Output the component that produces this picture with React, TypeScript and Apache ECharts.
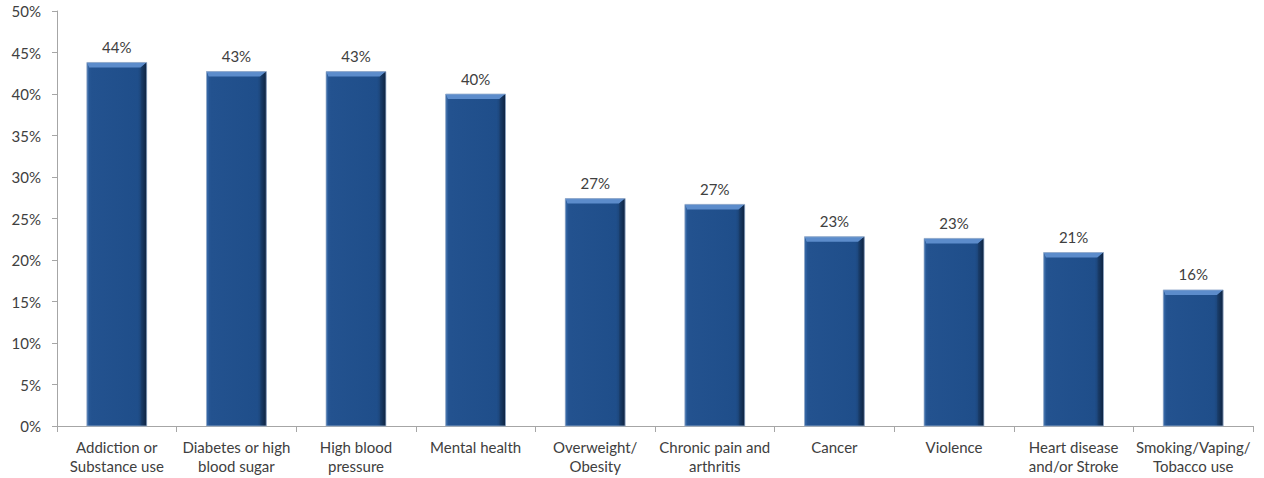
import React, { useEffect, useRef } from "react";
import * as echarts from "echarts";

const categories = [
  "Addiction or\nSubstance use",
  "Diabetes or high\nblood sugar",
  "High blood\npressure",
  "Mental health",
  "Overweight/\nObesity",
  "Chronic pain and\narthritis",
  "Cancer",
  "Violence",
  "Heart disease\nand/or Stroke",
  "Smoking/Vaping/\nTobacco use",
];
const values = [43.8, 42.7, 42.7, 40.0, 27.4, 26.7, 22.8, 22.6, 20.9, 16.4];
const yTicks = [0, 5, 10, 15, 20, 25, 30, 35, 40, 45, 50];

const FONT = "Lato, 'Open Sans', sans-serif";

export default function App() {
  const ref = useRef<HTMLDivElement>(null);
  useEffect(() => {
    if (!ref.current) return;
    const chart = echarts.init(ref.current, undefined, { renderer: "svg" });
    chart.setOption({
      animation: false,
      grid: { left: 57, right: 11, top: 11, bottom: 52 },
      xAxis: {
        type: "category",
        data: categories,
        axisLine: { lineStyle: { color: "#A6A6A6" } },
        axisTick: { show: true, alignWithLabel: false, length: 6, lineStyle: { color: "#A6A6A6" } },
        axisLabel: {
          color: "#404040",
          fontFamily: FONT,
          fontSize: 15,
          lineHeight: 19,
          margin: 11,
          interval: 0,
        },
      },
      yAxis: {
        type: "value",
        min: yTicks[0],
        max: yTicks[yTicks.length - 1],
        interval: 5,
        axisLine: { show: true, lineStyle: { color: "#A6A6A6" } },
        axisTick: { show: true, length: 5, lineStyle: { color: "#A6A6A6" } },
        splitLine: { show: false },
        axisLabel: {
          color: "#404040",
          fontFamily: FONT,
          fontSize: 15,
          margin: 16,
          formatter: (v: number) => `${v}%`,
        },
      },
      series: [
        {
          type: "bar",
          data: values,
          barWidth: "50%",
          itemStyle: {
            color: new echarts.graphic.LinearGradient(0, 0, 1, 0, [
              { offset: 0, color: "#2A5A98" },
              { offset: 0.08, color: "#23528F" },
              { offset: 0.85, color: "#1F4E8A" },
              { offset: 1, color: "#17375F" },
            ]),
          },
          label: {
            show: true,
            position: "top",
            distance: 8,
            color: "#404040",
            fontFamily: FONT,
            fontSize: 15,
            formatter: (p: any) => `${Math.round(p.value)}%`,
          },
        },
        {
          type: "custom",
          silent: true,
          z: 3,
          data: values.map((v, i) => [i, v]),
          renderItem: (params: any, api: any) => {
            const top = api.coord([api.value(0), api.value(1)]);
            const base = api.coord([api.value(0), 0]);
            const w = api.size([1, 0])[0] * 0.5;
            const x0 = top[0] - w / 2;
            const x1 = top[0] + w / 2;
            const y0 = top[1];
            const y1 = base[1];
            const b = 5;
            const s = 6;
            return {
              type: "group",
              children: [
                {
                  type: "polygon",
                  shape: { points: [[x0, y0], [x1, y0], [x1 - s, y0 + b], [x0 + 2, y0 + b]] },
                  style: { fill: "#5C8CCB" },
                },
                {
                  type: "polygon",
                  shape: { points: [[x1, y0], [x1, y1], [x1 - s, y1], [x1 - s, y0 + b]] },
                  style: {
                    fill: new echarts.graphic.LinearGradient(0, 0, 1, 0, [
                      { offset: 0, color: "#1A3F6E" },
                      { offset: 1, color: "#0E2340" },
                    ]),
                  },
                },
                {
                  type: "polygon",
                  shape: { points: [[x0, y0], [x0 + 2, y0 + b], [x0 + 2, y1], [x0, y1]] },
                  style: { fill: "#3465A3" },
                },
                {
                  type: "rect",
                  shape: { x: x0, y: y0, width: w, height: y1 - y0 },
                  style: { fill: "none", stroke: "#9DB3CF", lineWidth: 0.8 },
                },
              ],
            };
          },
        },
      ],
    });
    return () => chart.dispose();
  }, []);
  return <div ref={ref} style={{ width: 1264, height: 478, position: "absolute", left: 0, top: 0 }} />;
}
